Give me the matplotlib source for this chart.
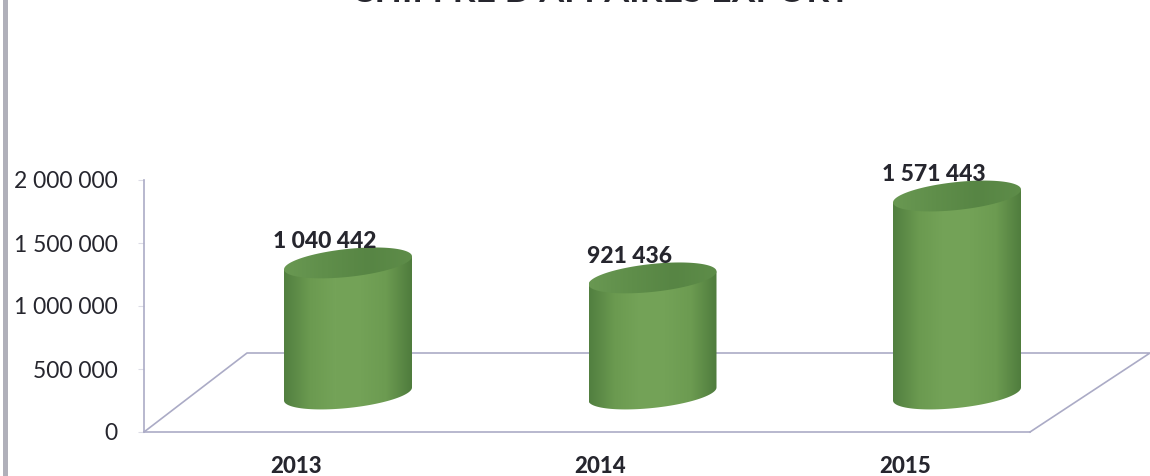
import matplotlib
matplotlib.use('Agg')
import matplotlib.pyplot as plt
from matplotlib.patches import PathPatch, Rectangle
from matplotlib.path import Path
from matplotlib.colors import LinearSegmentedColormap
import numpy as np

years = ['2013', '2014', '2015']
values = [1040442, 921436, 1571443]
value_labels = ['1 040 442', '921 436', '1 571 443']
y_ticks = [0, 500000, 1000000, 1500000, 2000000]
y_tick_labels = ['0', '500 000', '1 000 000', '1 500 000', '2 000 000']
title = "CHIFFRE D'AFFAIRES EXPORT"

W, H = 1150, 476
line_color = '#ababc6'
text_color = '#26262e'

plt.rcParams['font.family'] = ['Lato', 'DejaVu Sans']

# pixel layout of the plot box
left, right, top, bottom = 144, 1030, 180, 432
px_x = 304.5                 # pixels per category
px_y = (bottom - top) / 2000000.0
bar_x0 = 348                 # pixel centre of first cylinder

fig = plt.figure(figsize=(W / 100, H / 100), dpi=100, facecolor='white')
ax = fig.add_axes([left / W, 1 - bottom / H, (right - left) / W, (bottom - top) / H])
xlim = ((left - bar_x0) / px_x, (right - bar_x0) / px_x)
ylim = (0, 2000000)

body_cmap = LinearSegmentedColormap.from_list('body', ['#527f40', '#6b9a50', '#74a358', '#73a257', '#6c9b51', '#4f7c3d'])
top_cmap = LinearSegmentedColormap.from_list('top', ['#699852', '#5f8e4a', '#578544', '#5e8d49'])


def ellipse_pts(cx, cy, a, b, shear, t):
    return cx + a * np.cos(t), cy + b * np.sin(t) + shear * np.cos(t)


def cylinder(ax, cx, val):
    a = 64 / px_x
    b = 14 / px_y
    shear = 6.5 / px_y
    base = 38 / px_y
    y_top = base + val

    t = np.linspace(np.pi, 2 * np.pi, 60)
    bx, by = ellipse_pts(cx, base, a, b, shear, t)
    xs = np.concatenate([[cx - a], bx, [cx + a]])
    ys = np.concatenate([[y_top - shear], by, [y_top + shear]])
    clip = PathPatch(Path(np.column_stack([xs, ys])), transform=ax.transData, fc='none', ec='none')
    ax.add_patch(clip)
    im = ax.imshow(np.linspace(0, 1, 128)[None, :], cmap=body_cmap, aspect='auto', zorder=3,
                   extent=(cx - a, cx + a, base - 2 * b, y_top + 2 * b))
    im.set_clip_path(clip)

    t = np.linspace(0, 2 * np.pi, 120)
    tx, ty = ellipse_pts(cx, y_top, a, b, shear, t)
    clip2 = PathPatch(Path(np.column_stack([tx, ty])), transform=ax.transData, fc='none', ec='none')
    ax.add_patch(clip2)
    im2 = ax.imshow(np.linspace(0, 1, 64)[None, :], cmap=top_cmap, aspect='auto', zorder=4,
                    extent=(cx - a, cx + a, y_top - 2 * b, y_top + 2 * b))
    im2.set_clip_path(clip2)


# floor of the 3d box, behind the cylinders
floor_h = (bottom - 353) * 1 / px_y
back_l = (247 - bar_x0) / px_x
back_r = (1150 - bar_x0) / px_x
ax.plot([xlim[0], back_l, back_r, xlim[1]], [0, floor_h, floor_h, 0], color=line_color,
        lw=1.2, clip_on=False, zorder=1)

for i, v in enumerate(values):
    cylinder(ax, i, v)
    ax.text(i - 23 / px_x, v + 38 / px_y + 21 / px_y, value_labels[i], ha='center', va='center',
            fontsize=16.5, fontweight='black', color=text_color, zorder=6)

ax.set_xlim(xlim)
ax.set_ylim(ylim)
ax.patch.set_visible(False)
for s in ['top', 'right']:
    ax.spines[s].set_visible(False)
for s in ['left', 'bottom']:
    ax.spines[s].set_color(line_color)
    ax.spines[s].set_linewidth(1.2)

ax.set_yticks(y_ticks)
ax.set_yticklabels(y_tick_labels, fontsize=16.5, color=text_color)
ax.tick_params(axis='y', length=4, color='#dcdce6', pad=15)
ax.set_xticks([i - 52 / px_x for i in range(len(years))])
ax.set_xticklabels(years, fontsize=16, fontweight='black', color=text_color)
ax.tick_params(axis='x', length=0, pad=17)

fig.text(601 / W, 1 - 2 / H, title, ha='center', va='baseline', fontsize=25.7, fontweight='bold', color=text_color)

# scanned page edge on the left
fig.add_artist(Rectangle((3 / W, 0), 5 / W, 1, transform=fig.transFigure, fc='#b0b0ba', ec='none'))

fig.savefig('out.png', dpi=100)
